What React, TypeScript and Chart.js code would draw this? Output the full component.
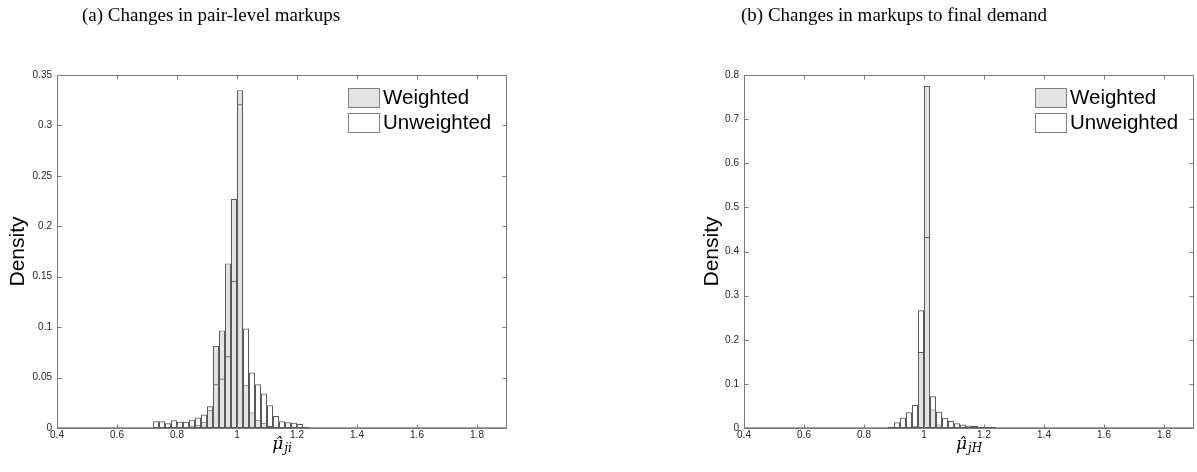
import React, { useEffect, useRef } from "react";
import { Chart, registerables } from "chart.js";

Chart.register(...registerables);

// ---------- data ----------
const BIN_CENTERS = [
  0.41, 0.43, 0.45, 0.47, 0.49, 0.51, 0.53, 0.55, 0.57, 0.59,
  0.61, 0.63, 0.65, 0.67, 0.69, 0.71, 0.73, 0.75, 0.77, 0.79,
  0.81, 0.83, 0.85, 0.87, 0.89, 0.91, 0.93, 0.95, 0.97, 0.99,
  1.01, 1.03, 1.05, 1.07, 1.09, 1.11, 1.13, 1.15, 1.17, 1.19,
  1.21, 1.23, 1.25, 1.27, 1.29, 1.31, 1.33, 1.35, 1.37, 1.39,
  1.41, 1.43, 1.45, 1.47, 1.49, 1.51, 1.53, 1.55, 1.57, 1.59,
  1.61, 1.63, 1.65, 1.67, 1.69, 1.71, 1.73, 1.75, 1.77, 1.79,
  1.81, 1.83, 1.85, 1.87, 1.89,
];

// Panel (a): pair-level markups
const A_WEIGHTED = [
  0, 0, 0, 0, 0, 0, 0, 0, 0, 0,
  0, 0, 0, 0, 0, 0, 0.0003, 0.0003, 0.0003, 0.0005,
  0.0005, 0.001, 0.0024, 0.0033, 0.0057, 0.0176, 0.0814, 0.0967, 0.163, 0.227,
  0.335, 0.0424, 0.0153, 0.0083, 0.0053, 0.002, 0.001, 0.0008, 0.0005, 0.0005,
  0.0003, 0.0002, 0, 0, 0, 0, 0, 0, 0, 0,
  0, 0, 0, 0, 0, 0, 0, 0, 0, 0,
  0, 0, 0, 0, 0, 0, 0, 0, 0, 0,
  0, 0, 0, 0, 0,
];
const A_UNWEIGHTED = [
  0.0008, 0.0008, 0.0008, 0.0008, 0.0008, 0.0008, 0.0008, 0.0008, 0.0008, 0.0008,
  0.0008, 0.0008, 0.0008, 0.0008, 0.0008, 0.0008, 0.0066, 0.0066, 0.0046, 0.0076,
  0.0063, 0.0063, 0.0083, 0.0103, 0.0133, 0.0215, 0.0434, 0.049, 0.0712, 0.146,
  0.321, 0.0987, 0.055, 0.0434, 0.0341, 0.0225, 0.012, 0.0066, 0.0056, 0.0053,
  0.004, 0.001, 0.0008, 0.0008, 0.0008, 0.0008, 0.0008, 0.0008, 0.0008, 0.0008,
  0.0008, 0.0008, 0.0008, 0.0008, 0.0008, 0.0008, 0.0008, 0.0008, 0.0008, 0.0008,
  0.0008, 0.0008, 0.0008, 0.0008, 0.0008, 0.0008, 0.0008, 0.0008, 0.0008, 0.0008,
  0.0008, 0.0008, 0.0008, 0.0008, 0.0008,
];

// Panel (b): markups to final demand
const B_WEIGHTED = [
  0, 0, 0, 0, 0, 0, 0, 0, 0, 0,
  0, 0, 0, 0, 0, 0, 0, 0, 0, 0,
  0, 0, 0, 0.0002, 0.0005, 0.001, 0.001, 0.002, 0.004, 0.172,
  0.775, 0.0417, 0.008, 0.002, 0.001, 0.0008, 0.0005, 0.0004, 0.0003, 0.0002,
  0.0002, 0.0001, 0, 0, 0, 0, 0, 0, 0, 0,
  0, 0, 0, 0, 0, 0, 0, 0, 0, 0,
  0, 0, 0, 0, 0, 0, 0, 0, 0, 0,
  0, 0, 0, 0, 0,
];
const B_UNWEIGHTED = [
  0.0015, 0.0015, 0.0015, 0.0015, 0.0015, 0.0015, 0.0015, 0.0015, 0.0015, 0.0015,
  0.0015, 0.0015, 0.0015, 0.0015, 0.0015, 0.0015, 0.0015, 0.0015, 0.0015, 0.0015,
  0.0015, 0.0015, 0.0015, 0.0015, 0.003, 0.013, 0.0235, 0.0356, 0.052, 0.267,
  0.433, 0.072, 0.037, 0.0235, 0.016, 0.0106, 0.0077, 0.0054, 0.0045, 0.003,
  0.0025, 0.002, 0.0015, 0.0015, 0.0015, 0.0015, 0.0015, 0.0015, 0.0015, 0.0015,
  0.0015, 0.0015, 0.0015, 0.0015, 0.0015, 0.0015, 0.0015, 0.0015, 0.0015, 0.0015,
  0.0015, 0.0015, 0.0015, 0.0015, 0.0015, 0.0015, 0.0015, 0.0015, 0.0015, 0.0015,
  0.0015, 0.0015, 0.0015, 0.0015, 0.0015,
];

const X_TICKS = [0.4, 0.6, 0.8, 1, 1.2, 1.4, 1.6, 1.8];
const A_Y_TICKS = [0, 0.05, 0.1, 0.15, 0.2, 0.25, 0.3, 0.35];
const B_Y_TICKS = [0, 0.1, 0.2, 0.3, 0.4, 0.5, 0.6, 0.7, 0.8];
const SERIES_LABELS = ["Weighted", "Unweighted"];
const TITLE_A = "(a) Changes in pair-level markups";
const TITLE_B = "(b) Changes in markups to final demand";
const Y_TITLE = "Density";
const X_SUB_A = "ji";
const X_SUB_B = "jH";

// ---------- styling ----------
const W_FILL = "#e3e3e3";
const EDGE = "#5a5a5a";
const AXIS = "#7a7a7a";
const TICK_TEXT = "#262626";
const SANS = '"Liberation Sans", Arial, sans-serif';

const fmt = (v: number) => String(Number(v.toFixed(2)));

const matlabAxes = {
  id: "matlabAxes",
  afterDraw(chart: any, _args: any, opts: any) {
    const { ctx, chartArea: a, scales } = chart;
    const xs = scales.x;
    const ys = scales.y;
    ctx.save();
    // box
    ctx.strokeStyle = AXIS;
    ctx.lineWidth = 1;
    const L = Math.round(a.left) + 0.5;
    const T = Math.round(a.top) + 0.5;
    const R = Math.round(a.right) - 0.5;
    const B = Math.round(a.bottom) + 0.5;
    ctx.beginPath();
    ctx.moveTo(L, T);
    ctx.lineTo(R, T);
    ctx.lineTo(R, B);
    ctx.lineTo(L, B);
    ctx.closePath();
    ctx.stroke();
    // inward ticks
    ctx.beginPath();
    for (const t of xs.ticks) {
      const px = Math.round(xs.getPixelForValue(t.value)) + 0.5;
      ctx.moveTo(px, B);
      ctx.lineTo(px, B - 4);
      ctx.moveTo(px, T);
      ctx.lineTo(px, T + 4);
    }
    for (const t of ys.ticks) {
      const py = Math.round(ys.getPixelForValue(t.value)) + 0.5;
      ctx.moveTo(L, py);
      ctx.lineTo(L + 4, py);
      ctx.moveTo(R, py);
      ctx.lineTo(R - 4, py);
    }
    ctx.stroke();

    // legend
    const lx = a.right - 159;
    const ly = a.top + 13;
    const order = [0, 1];
    ctx.font = `20.5px ${SANS}`;
    ctx.textBaseline = "middle";
    ctx.textAlign = "left";
    order.forEach((di, k) => {
      const ds = chart.data.datasets[di];
      const y0 = ly + k * 25;
      ctx.fillStyle = ds.legendFill;
      ctx.fillRect(lx, y0, 31, 19);
      ctx.strokeStyle = "#808080";
      ctx.lineWidth = 1;
      ctx.strokeRect(Math.round(lx) + 0.5, Math.round(y0) + 0.5, 31, 19);
      ctx.fillStyle = "#000";
      ctx.fillText(ds.label, lx + 35, y0 + 10.5);
    });

    // y title
    ctx.save();
    ctx.translate(a.left + opts.yTitleOffset, (a.top + a.bottom) / 2);
    ctx.rotate(-Math.PI / 2);
    ctx.font = `21px ${SANS}`;
    ctx.fillStyle = "#000";
    ctx.textAlign = "center";
    ctx.textBaseline = "middle";
    ctx.fillText(Y_TITLE, 0, 0);
    ctx.restore();

    // x title: mu-hat with subscript
    const cx = (a.left + a.right) / 2;
    const base = a.bottom + 21;
    ctx.fillStyle = "#000";
    ctx.textBaseline = "alphabetic";
    ctx.textAlign = "left";
    const mainFont = 'italic 17px "DejaVu Serif", serif';
    const subFont = 'italic 12px "DejaVu Serif", serif';
    ctx.font = mainFont;
    const mu = "\u03BC\u0302";
    const wMu = ctx.measureText("\u03BC").width;
    ctx.font = subFont;
    const wSub = ctx.measureText(opts.xSub).width;
    const start = cx - (wMu + wSub + 1) / 2;
    ctx.font = mainFont;
    ctx.fillText(mu, start, base);
    ctx.font = subFont;
    ctx.fillText(opts.xSub, start + wMu + 1, base + 3);
    ctx.restore();
  },
};

function makeConfig(
  weighted: number[],
  unweighted: number[],
  yTicks: number[],
  yMax: number,
  padLeft: number,
  padRight: number,
  xSub: string,
  yTitleOffset: number
): any {
  return {
    type: "bar",
    data: {
      datasets: [
        {
          label: SERIES_LABELS[0],
          data: BIN_CENTERS.map((x, i) => ({ x, y: weighted[i] })),
          backgroundColor: W_FILL,
          borderColor: EDGE,
          borderWidth: 1,
          borderSkipped: false,
          inflateAmount: 0,
          grouped: false,
          order: 1,
          barPercentage: 1,
          categoryPercentage: 1,
          legendFill: W_FILL,
        },
        {
          label: SERIES_LABELS[1],
          data: BIN_CENTERS.map((x, i) => ({ x, y: unweighted[i] })),
          backgroundColor: "rgba(255,255,255,0)",
          borderColor: EDGE,
          borderWidth: 1,
          borderSkipped: false,
          inflateAmount: 0,
          grouped: false,
          order: 0,
          barPercentage: 1,
          categoryPercentage: 1,
          legendFill: "#ffffff",
        },
      ],
    },
    options: {
      responsive: false,
      animation: false,
      devicePixelRatio: 1,
      layout: { padding: { left: padLeft, right: padRight, top: 75, bottom: 24 } },
      plugins: {
        legend: { display: false },
        title: { display: false },
        tooltip: { enabled: false },
        matlabAxes: { xSub, yTitleOffset },
      },
      scales: {
        x: {
          type: "linear",
          min: 0.4,
          max: 1.9,
          offset: false,
          grid: { display: false, drawTicks: false },
          border: { display: false },
          afterBuildTicks: (s: any) => {
            s.ticks = X_TICKS.map((v) => ({ value: v }));
          },
          afterFit: (s: any) => {
            s.height = 20;
          },
          ticks: {
            padding: 1,
            color: TICK_TEXT,
            font: { family: SANS, size: 10 },
            maxRotation: 0,
            autoSkip: false,
            callback: (v: any) => fmt(Number(v)),
          },
        },
        y: {
          type: "linear",
          min: 0,
          max: yMax,
          grid: { display: false, drawTicks: false },
          border: { display: false },
          afterBuildTicks: (s: any) => {
            s.ticks = yTicks.map((v) => ({ value: v }));
          },
          afterFit: (s: any) => {
            s.width = 57;
          },
          ticks: {
            padding: 5,
            color: TICK_TEXT,
            font: { family: SANS, size: 10 },
            autoSkip: false,
            callback: (v: any) => fmt(Number(v)),
          },
        },
      },
    },
    plugins: [matlabAxes],
  };
}

function Panel(props: {
  left: number;
  width: number;
  config: () => any;
}) {
  const ref = useRef<HTMLCanvasElement | null>(null);
  useEffect(() => {
    if (!ref.current) return;
    const chart = new Chart(ref.current, props.config());
    return () => chart.destroy();
  }, []);
  return (
    <canvas
      ref={ref}
      width={props.width}
      height={472}
      style={{
        position: "absolute",
        left: props.left,
        top: 0,
        width: props.width,
        height: 472,
      }}
    />
  );
}

const titleStyle: React.CSSProperties = {
  position: "absolute",
  top: 5,
  fontFamily: '"Liberation Serif", "Times New Roman", serif',
  fontSize: 19,
  lineHeight: "19px",
  color: "#000",
  whiteSpace: "nowrap",
};

export default function App() {
  return (
    <div
      style={{
        position: "absolute",
        left: 0,
        top: 0,
        width: 1197,
        height: 472,
        background: "#fff",
        overflow: "hidden",
      }}
    >
      <Panel
        left={0}
        width={598}
        config={() =>
          makeConfig(A_WEIGHTED, A_UNWEIGHTED, A_Y_TICKS, 0.35, 0, 91, X_SUB_A, -39)
        }
      />
      <Panel
        left={598}
        width={599}
        config={() =>
          makeConfig(B_WEIGHTED, B_UNWEIGHTED, B_Y_TICKS, 0.8, 89, 3, X_SUB_B, -32)
        }
      />
      <div style={{ ...titleStyle, left: 82 }}>{TITLE_A}</div>
      <div style={{ ...titleStyle, left: 741 }}>{TITLE_B}</div>
    </div>
  );
}
